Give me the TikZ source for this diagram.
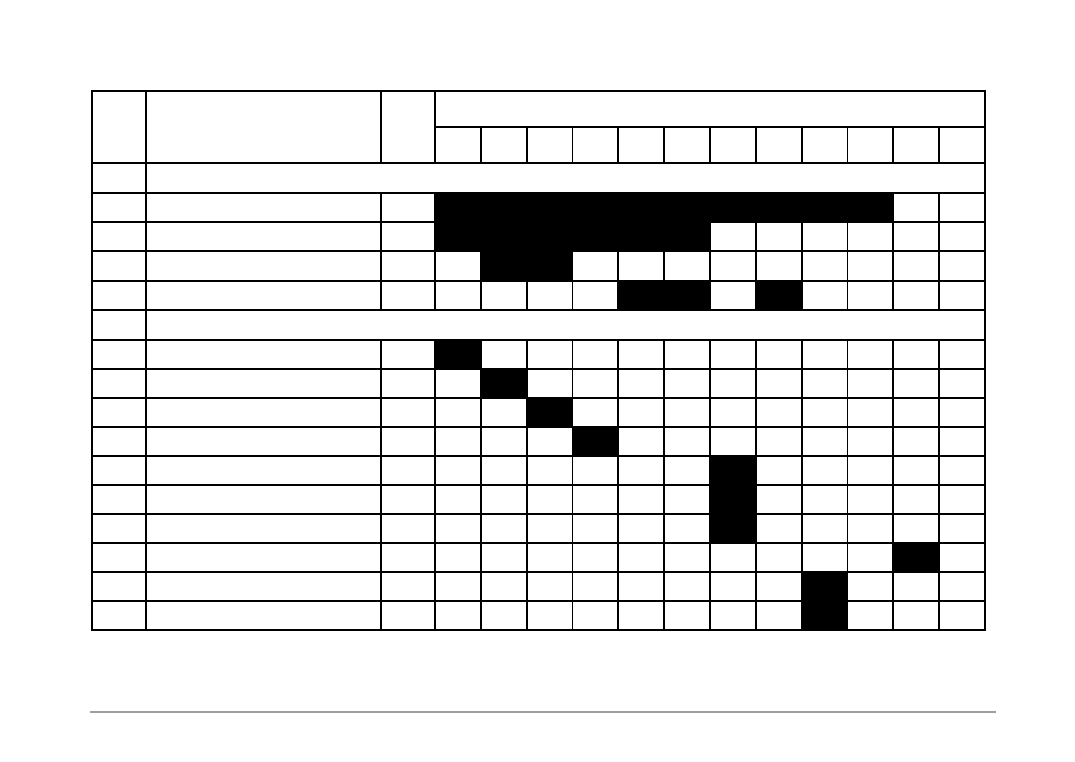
\documentclass[tikz,border=0pt]{standalone}
\begin{document}
\begin{tikzpicture}[x=1pt,y=-1pt,
  gridline/.style={line width=1.8pt,black,line cap=rect},
  barfill/.style={fill=black},
  footline/.style={line width=1.6pt,black!38}]
\useasboundingbox (0,0) rectangle (1075,761);
\fill[white] (0,0) rectangle (1075,761);
% row boundaries
\def\ry{{163,193,222,251,281,310,340,369,398,427,456,485,514,543,572,601,630}}
\def\mw{45.833}
% bars: row index (1-based data row), first month, last month
\foreach \r/\a/\b in {1/1/10, 2/1/6, 3/2/3, 4/5/6, 4/8/8,
                      6/1/1, 7/2/2, 8/3/3, 9/4/4, 10/7/7, 11/7/7, 12/7/7,
                      13/11/11, 14/9/9, 15/9/9}{
  \pgfmathsetmacro{\ytop}{\ry[\r]}
  \pgfmathsetmacro{\ybot}{\ry[\r+1]}
  \pgfmathsetmacro{\xl}{435+(\a-1)*\mw}
  \pgfmathsetmacro{\xr}{435+\b*\mw}
  \fill[barfill] (\xl,\ytop) rectangle (\xr,\ybot);
}
% horizontal lines
\draw[gridline] (92,91) -- (985,91);
\draw[gridline] (435,127) -- (985,127);
\foreach \i in {0,...,16}{
  \pgfmathsetmacro{\yy}{\ry[\i]}
  \draw[gridline] (92,\yy) -- (985,\yy);
}
% outer and first columns
\draw[gridline] (92,91) -- (92,630);
\draw[gridline] (985,91) -- (985,630);
\draw[gridline] (146,91) -- (146,630);
% columns interrupted by section rows
\foreach \x in {381,435}{
  \draw[gridline] (\x,91) -- (\x,163);
  \draw[gridline] (\x,193) -- (\x,310);
  \draw[gridline] (\x,340) -- (\x,630);
}
\foreach \k in {1,...,11}{
  \pgfmathsetmacro{\xx}{435+\k*\mw}
  \draw[gridline] (\xx,127) -- (\xx,163);
  \draw[gridline] (\xx,193) -- (\xx,310);
  \draw[gridline] (\xx,340) -- (\xx,630);
}
% footer rule
\draw[footline] (90,712) -- (996,712);
\end{tikzpicture}
\end{document}
